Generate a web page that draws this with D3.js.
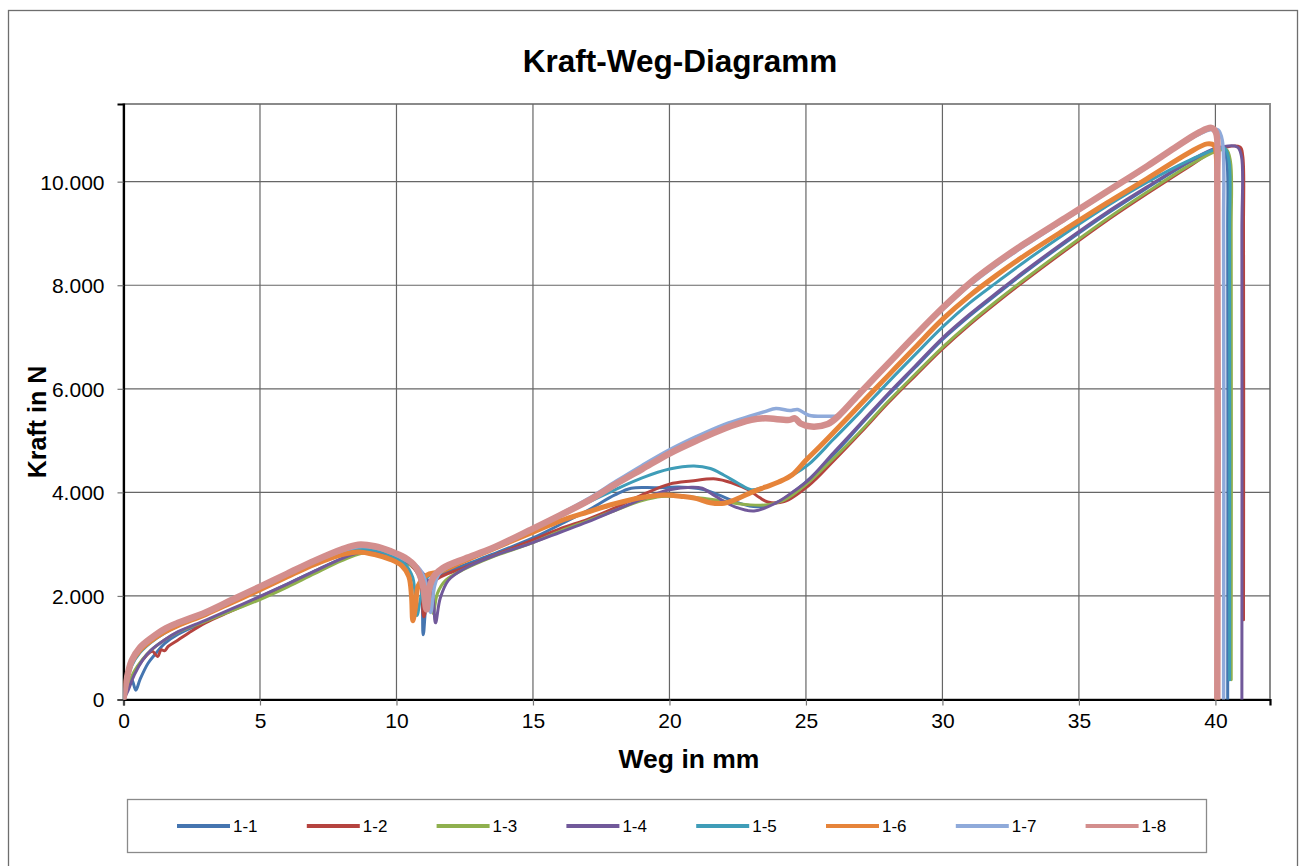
<!DOCTYPE html>
<html>
<head>
<meta charset="utf-8">
<script src="https://cdn.jsdelivr.net/npm/d3@7"></script>
<style>
  body { margin: 0; background: #fff; }
  svg text { font-family: Arial, "Liberation Sans", sans-serif; fill: #000; }
</style>
</head>
<body>
<div id="chart"></div>
<script>
// Weg in mm / Kraft in N
const s1_1 = [[0,0],[0.15,300],[0.3,380],[0.45,180],[0.6,380],[0.9,700],[1.2,900],[1.5,1080],[2,1260],[3,1500],[4,1740],[5,1980],[6,2230],[7,2480],[8,2720],[8.7,2870],[9.3,2860],[9.9,2770],[10.5,2620],[10.85,2350],[10.98,1250],[11.1,1900],[11.3,2250],[11.7,2420],[12.5,2600],[13.5,2800],[15,3120],[16,3380],[17,3650],[18,3950],[18.6,4080],[19.5,4090],[20.5,4100],[21.2,4060],[21.8,3950],[22.5,3800],[23.2,3720],[24,3820],[25,4200],[26,4720],[27,5300],[28,5870],[29,6410],[30,6950],[31,7410],[32,7830],[33,8240],[34.5,8820],[36,9370],[37.5,9880],[39,10360],[40,10620],[40.3,10640],[40.42,10400],[40.45,9000],[40.45,0]];
const s1_2 = [[0,0],[0.15,200],[0.4,520],[0.7,760],[1.05,930],[1.25,830],[1.38,960],[1.5,940],[1.65,1030],[2,1150],[2.4,1290],[3,1480],[4,1720],[5,1960],[6,2200],[7,2460],[8,2700],[8.7,2840],[9.3,2830],[9.9,2740],[10.5,2600],[10.85,2350],[11.0,1600],[11.2,2100],[11.5,2330],[12.5,2550],[13.5,2770],[15,3080],[16,3300],[17,3480],[18,3700],[19,3950],[20,4160],[20.8,4220],[21.7,4260],[22.3,4180],[22.9,4046],[23.3,3900],[23.6,3815],[24.2,3820],[25.1,4130],[26,4600],[27,5150],[28,5720],[29,6250],[30,6770],[31,7240],[32,7670],[33,8080],[34.5,8670],[36,9240],[37.5,9770],[39,10280],[40,10600],[40.9,10670],[41.0,10500],[41.03,9000],[41.03,1540]];
const s1_3 = [[0,0],[0.15,250],[0.4,550],[0.7,780],[1,950],[1.5,1150],[2,1300],[3,1510],[4,1720],[5,1930],[6,2170],[7,2430],[8,2680],[8.7,2820],[9.3,2820],[9.9,2730],[10.5,2600],[11,2400],[11.25,2050],[11.35,1660],[11.5,2050],[11.8,2300],[12.5,2520],[13.5,2750],[15,3030],[16,3250],[17,3450],[18,3650],[19,3840],[19.7,3920],[20.5,3920],[21.3,3880],[21.8,3850],[22.4,3790],[22.9,3760],[23.6,3760],[24.2,3850],[25,4150],[26,4650],[27,5180],[28,5750],[29,6280],[30,6800],[31,7270],[32,7700],[33,8110],[34.5,8700],[36,9270],[37.5,9800],[39,10300],[40,10580],[40.4,10620],[40.55,10400],[40.58,9000],[40.58,380]];
const s1_4 = [[0,0],[0.15,150],[0.4,480],[0.7,760],[1,950],[1.5,1150],[2,1310],[3,1530],[4,1760],[5,1990],[6,2230],[7,2480],[8,2720],[8.7,2850],[9.3,2850],[9.9,2760],[10.5,2620],[11,2420],[11.3,2100],[11.43,1480],[11.6,1950],[11.9,2300],[12.5,2530],[13.5,2760],[15,3030],[16,3230],[17,3430],[18,3650],[19,3870],[20,4050],[20.8,4100],[21.2,4080],[21.7,3920],[22.4,3720],[23.1,3640],[23.9,3795],[24.5,4000],[25.1,4240],[26,4760],[27,5330],[28,5900],[29,6440],[30,6980],[31,7440],[32,7860],[33,8270],[34.5,8850],[36,9400],[37.5,9900],[39,10380],[40,10640],[40.8,10670],[40.95,10500],[40.97,9000],[40.97,0]];
const s1_5 = [[0,0],[0.1,300],[0.3,650],[0.6,900],[1,1100],[1.5,1280],[2,1420],[3,1640],[4,1880],[5,2120],[6,2380],[7,2620],[8,2830],[8.6,2900],[9.2,2880],[9.8,2780],[10.3,2620],[10.6,2350],[10.75,1620],[10.9,2000],[11.1,2350],[11.6,2480],[12.5,2680],[13.5,2900],[15,3250],[16,3530],[17,3800],[18,4050],[19,4280],[20,4450],[20.9,4510],[21.5,4460],[22,4330],[22.5,4180],[23,4050],[23.4,4090],[24,4200],[24.5,4330],[25.1,4540],[26,5020],[27,5560],[28,6120],[29,6660],[30,7190],[31,7660],[32,8060],[33,8450],[34.5,9000],[36,9520],[37.5,9990],[39,10400],[40,10620],[40.35,10640],[40.5,10400],[40.52,9000],[40.52,380]];
const s1_6 = [[0,0],[0.1,380],[0.3,720],[0.6,950],[1,1130],[1.5,1300],[2,1430],[3,1640],[4,1880],[5,2120],[6,2370],[7,2610],[8,2800],[8.6,2850],[9.2,2800],[9.8,2700],[10.2,2580],[10.45,2380],[10.55,2000],[10.6,1520],[10.7,1800],[10.8,2200],[11.1,2400],[11.6,2470],[12.5,2680],[13.5,2900],[15,3230],[16,3450],[17,3620],[18,3780],[19,3900],[19.8,3950],[20.5,3920],[21,3880],[21.5,3800],[22,3790],[22.5,3880],[23,4000],[23.5,4100],[24,4200],[24.5,4340],[25,4620],[25.5,4880],[26,5150],[27,5700],[28,6250],[29,6800],[30,7340],[31,7800],[32,8200],[33,8570],[34.5,9080],[36,9580],[37.5,10060],[39,10550],[39.7,10730],[39.95,10700],[40.05,10300],[40.07,9000],[40.07,0]];
const s1_7 = [[0,0],[0.1,380],[0.3,780],[0.6,1020],[1,1190],[1.5,1360],[2,1480],[3,1690],[4,1930],[5,2170],[6,2420],[7,2660],[8,2870],[8.6,2950],[9.2,2930],[9.8,2830],[10.3,2700],[10.8,2550],[11.05,2300],[11.25,1680],[11.4,2200],[11.6,2450],[12.5,2700],[13.5,2920],[15,3300],[16,3580],[17,3870],[18,4200],[19,4520],[20,4820],[21,5080],[22,5310],[23,5480],[23.5,5560],[23.9,5620],[24.4,5580],[24.7,5600],[25.1,5490],[25.8,5470],[26.2,5490],[26.6,5700],[27,5920],[28,6460],[29,7000],[30,7520],[31,8000],[32,8400],[33,8760],[34.5,9270],[36,9780],[37.5,10280],[39,10800],[39.8,11000],[40.1,11000],[40.25,10800],[40.3,9000],[40.3,0]];
const s1_8 = [[0,0],[0.1,350],[0.3,750],[0.6,1000],[1,1180],[1.5,1360],[2,1480],[3,1680],[4,1930],[5,2180],[6,2430],[7,2680],[8,2900],[8.6,2990],[9.2,2960],[9.8,2860],[10.3,2740],[10.7,2560],[10.95,2250],[11.1,1740],[11.2,2150],[11.4,2400],[11.7,2540],[12.5,2720],[13.5,2920],[15,3300],[16,3560],[17,3830],[18,4150],[19,4450],[20,4750],[21,5000],[22,5230],[23,5400],[23.5,5430],[24.4,5400],[24.6,5430],[24.8,5330],[25.2,5270],[25.8,5320],[26.2,5480],[27,5930],[28,6480],[29,7030],[30,7560],[31,8040],[32,8440],[33,8800],[34.5,9300],[36,9800],[37.5,10300],[38.5,10650],[39.4,10950],[39.85,11040],[40.02,10950],[40.07,10000],[40.07,0]];

const seriesNames = ["1-1","1-2","1-3","1-4","1-5","1-6","1-7","1-8"];
const seriesData = [s1_1, s1_2, s1_3, s1_4, s1_5, s1_6, s1_7, s1_8];
const seriesColors = ["#4575b0","#b5433f","#8fb04e","#71599a","#3f9db8","#e6843a","#8faada","#d38e8d"];
const seriesWidths = [3, 3, 3, 3, 3, 5, 3.5, 6.5];

const xTicks = [0, 5, 10, 15, 20, 25, 30, 35, 40];
const yTicks = [0, 2000, 4000, 6000, 8000, 10000];

const W = 1300, H = 866;
const plot = { left: 123.5, top: 104, right: 1270, bottom: 699.5 };

const svg = d3.select("#chart").append("svg")
  .attr("width", W)
  .attr("height", H);

// outer chart frame
svg.append("rect")
  .attr("x", 8.5).attr("y", 10.5)
  .attr("width", 1289).attr("height", 870)
  .attr("fill", "#fff").attr("stroke", "#6e6e6e").attr("stroke-width", 1.3);

const x = d3.scaleLinear().domain([0, 42]).range([plot.left, plot.right]);
const y = d3.scaleLinear().domain([0, 11500]).range([plot.bottom, plot.top]);

const de = d3.formatLocale({ decimal: ",", thousands: ".", grouping: [3], currency: ["", " €"] });
const fmt = de.format(",");

// plot frame (top/right gray)
svg.append("rect")
  .attr("x", plot.left).attr("y", plot.top)
  .attr("width", plot.right - plot.left).attr("height", plot.bottom - plot.top)
  .attr("fill", "none").attr("stroke", "#8a8a8a").attr("stroke-width", 2);

// grid
svg.append("g")
  .selectAll("line.v")
  .data(xTicks.filter(d => d > 0))
  .join("line")
  .attr("x1", d => x(d)).attr("x2", d => x(d))
  .attr("y1", plot.top).attr("y2", plot.bottom)
  .attr("stroke", "#666").attr("stroke-width", 1.2);

svg.append("g")
  .selectAll("line.h")
  .data(yTicks.filter(d => d > 0))
  .join("line")
  .attr("x1", plot.left).attr("x2", plot.right)
  .attr("y1", d => y(d)).attr("y2", d => y(d))
  .attr("stroke", "#666").attr("stroke-width", 1.2);

// axes
const xAxis = svg.append("g")
  .attr("transform", `translate(0,${plot.bottom})`)
  .call(d3.axisBottom(x).tickValues(xTicks).tickFormat(d3.format("d")).tickSize(6).tickPadding(8));
const yAxis = svg.append("g")
  .attr("transform", `translate(${plot.left},0)`)
  .call(d3.axisLeft(y).tickValues(yTicks).tickFormat(fmt).tickSize(6).tickPadding(13));

[xAxis, yAxis].forEach(a => {
  a.select(".domain").attr("stroke", "#000").attr("stroke-width", 2.2);
  a.selectAll(".tick line").attr("stroke", "#777").attr("stroke-width", 1.2);
  a.selectAll(".tick text")
    .attr("font-family", "Arial, 'Liberation Sans', sans-serif")
    .attr("font-size", 21).attr("fill", "#000");
});
yAxis.selectAll(".tick text").attr("dy", "0.35em");

// curves
const line = d3.line()
  .x(d => x(d[0]))
  .y(d => y(d[1]))
  .curve(d3.curveCatmullRom.alpha(0.5));

svg.append("clipPath").attr("id", "plotclip")
  .append("rect")
  .attr("x", plot.left).attr("y", plot.top - 2)
  .attr("width", plot.right - plot.left).attr("height", plot.bottom - plot.top + 2);

svg.append("g")
  .attr("clip-path", "url(#plotclip)")
  .selectAll("path")
  .data(seriesData)
  .join("path")
  .attr("d", d => line(d))
  .attr("fill", "none")
  .attr("stroke", (d, i) => seriesColors[i])
  .attr("stroke-width", (d, i) => seriesWidths[i])
  .attr("stroke-linejoin", "round")
  .attr("stroke-linecap", "round");

// titles
svg.append("text")
  .attr("x", 680).attr("y", 72)
  .attr("text-anchor", "middle")
  .attr("font-size", 31.5).attr("font-weight", "bold")
  .text("Kraft-Weg-Diagramm");

svg.append("text")
  .attr("x", 689).attr("y", 768)
  .attr("text-anchor", "middle")
  .attr("font-size", 26.5).attr("font-weight", "bold")
  .text("Weg in mm");

svg.append("text")
  .attr("transform", "translate(46,422) rotate(-90)")
  .attr("text-anchor", "middle")
  .attr("font-size", 25).attr("font-weight", "bold")
  .text("Kraft in N");

// legend
svg.append("rect")
  .attr("x", 127.5).attr("y", 799.5)
  .attr("width", 1079).attr("height", 53)
  .attr("fill", "#fff").attr("stroke", "#8a8a8a").attr("stroke-width", 1.3);

const legend = svg.append("g")
  .selectAll("g")
  .data(seriesNames)
  .join("g")
  .attr("transform", (d, i) => `translate(${177 + i * 129.8},826)`);

legend.append("line")
  .attr("x1", 0).attr("x2", 53)
  .attr("stroke", (d, i) => seriesColors[i])
  .attr("stroke-width", 4);

legend.append("text")
  .attr("x", 56).attr("dy", "0.35em")
  .attr("font-size", 17)
  .text(d => d);
</script>
</body>
</html>
